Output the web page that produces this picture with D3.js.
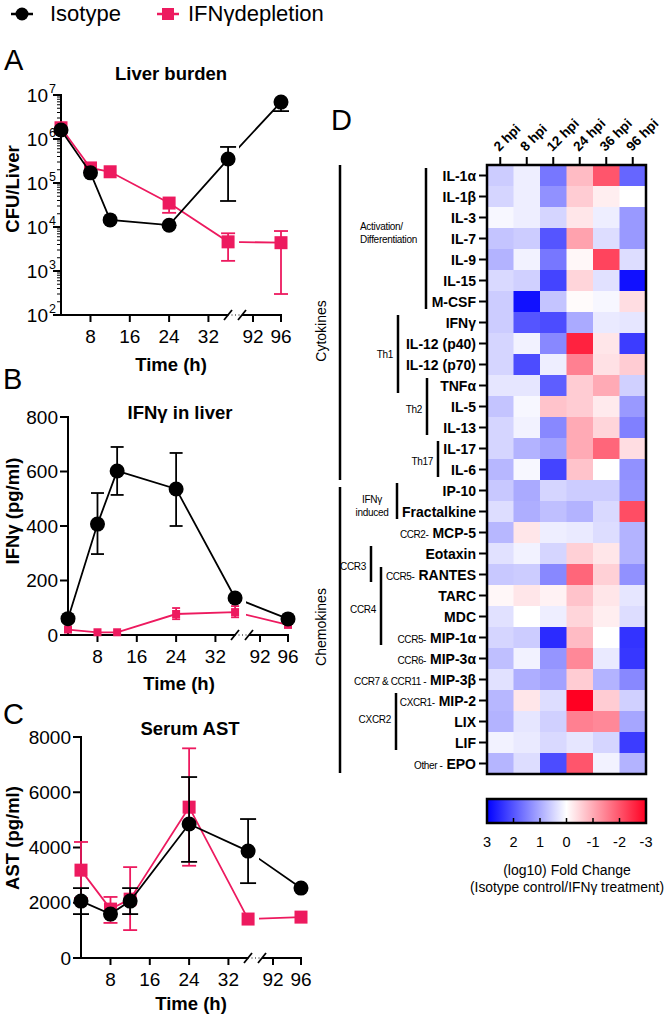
<!DOCTYPE html>
<html><head><meta charset="utf-8">
<script src="https://cdn.jsdelivr.net/npm/d3@7"></script>
<style>
body{margin:0;background:#fff}
svg{display:block}
text{font-family:"Liberation Sans",Arial,Helvetica,sans-serif;fill:#000}
</style>
</head><body>
<svg id="chart" width="671" height="1020"></svg>
<script>
// ---------------- DATA ----------------
const seriesNames = ["Isotype", "IFNγdepletion"];
const timepoints = [2, 8, 12, 24, 36, 96];
const xTickValues = [8, 16, 24, 32, 92, 96];

// A: Liver burden (CFU/Liver)
const burdenIso   = [1.6e6, 1.7e5, 1.45e4, 1.1e4, 3.5e5, 6.9e6];
const burdenIsoLo = [1.6e6, 1.7e5, 1.45e4, 1.1e4, 3.9e4, 4.3e6];
const burdenIsoHi = [1.6e6, 1.7e5, 1.45e4, 1.1e4, 6.6e5, 6.9e6];
const burdenIfn   = [1.8e6, 2.2e5, 1.8e5, 3.5e4, 4.6e3, 4.4e3];
const burdenIfnLo = [1.8e6, 2.2e5, 1.8e5, 2.1e4, 1.7e3, 3.0e2];
const burdenIfnHi = [1.8e6, 2.2e5, 1.8e5, 3.5e4, 7.2e3, 8.1e3];
const burdenTicks = [1e2, 1e3, 1e4, 1e5, 1e6, 1e7];

// B: IFNγ in liver (pg/ml)
const ifnIso   = [60, 407, 602, 536, 136, 59];
const ifnIsoLo = [60, 297, 514, 400, 136, 59];
const ifnIsoHi = [60, 521, 690, 668, 136, 59];
const ifnIfn   = [20, 10, 10, 77, 84, 37];
const ifnIfnLo = [20, 10, 10, 58, 65, 37];
const ifnIfnHi = [20, 10, 10, 99, 106, 37];
const ifnTicks = [0, 200, 400, 600, 800];

// C: Serum AST (pg/ml)
const astIso   = [2060, 1590, 2060, 4850, 3870, 2530];
const astIsoLo = [1590, 1590, 1590, 3480, 2710, 2530];
const astIsoHi = [2530, 1590, 2530, 6550, 5030, 2530];
const astIfn   = [3180, 1770, 2130, 5460, 1410, 1480];
const astIfnLo = [2170, 1270, 1010, 3340, 1410, 1480];
const astIfnHi = [4200, 2210, 3290, 7590, 1410, 1480];
const astTicks = [0, 2000, 4000, 6000, 8000];

// D: heatmap
const heatCols = ["2 hpi", "8 hpi", "12 hpi", "24 hpi", "36 hpi", "96 hpi"];
const heatRows = ["IL-1α","IL-1β","IL-3","IL-7","IL-9","IL-15","M-CSF","IFNγ","IL-12 (p40)","IL-12 (p70)",
  "TNFα","IL-5","IL-13","IL-17","IL-6","IP-10","Fractalkine","MCP-5","Eotaxin","RANTES","TARC","MDC",
  "MIP-1α","MIP-3α","MIP-3β","MIP-2","LIX","LIF","EPO"];
const heatPrefixes = ["","","","","","","","","","","","","","","","","","CCR2-","","CCR5-","","",
  "CCR5-","CCR6-","CCR7 & CCR11 -","CXCR1-","","","Other -"];
const heatValues = [
  [0.6, 0.2, 1.6, -0.8, -2.0, 1.8],
  [0.5, 0.2, 1.3, -0.6, -0.2, 0.0],
  [0.1, 0.2, 0.5, -0.3, 0.2, 1.2],
  [0.7, 0.6, 2.0, -1.1, 0.4, 1.2],
  [0.9, 0.15, 1.6, -0.1, -2.2, 0.4],
  [0.45, 0.55, 2.2, -0.5, 0.35, 2.8],
  [0.6, 2.8, 0.7, -0.05, 0.1, -0.4],
  [0.6, 2.0, 2.1, 1.0, 0.25, 0.3],
  [0.5, 0.15, 1.4, -2.6, -0.3, 2.3],
  [0.5, 2.1, 0.2, -1.5, -0.35, -0.6],
  [0.3, 0.3, 1.9, -0.6, -1.0, 0.55],
  [0.7, 0.1, -0.7, -0.6, -0.25, 1.2],
  [0.5, 0.15, 1.4, -1.0, -0.5, 1.5],
  [0.5, 0.9, 1.1, -1.0, -1.8, -0.4],
  [0.85, 0.1, 2.2, -0.7, 0.0, 1.3],
  [0.65, 1.0, 0.5, 0.6, 0.6, 1.25],
  [0.4, 0.95, 0.75, 0.9, 0.45, -2.1],
  [0.85, -0.3, 0.2, 0.25, 0.4, 0.9],
  [0.35, 0.15, 0.5, -0.55, -0.3, 0.9],
  [0.65, 0.6, 1.4, -1.8, -0.55, 1.3],
  [-0.1, -0.3, -0.15, -0.7, -0.3, 0.3],
  [0.35, 0.0, 0.2, -0.5, -0.2, 0.4],
  [0.5, 0.6, 2.5, -0.8, 0.0, 2.4],
  [0.75, 0.15, 1.25, -1.4, 0.25, 2.35],
  [0.35, 0.95, 1.1, -0.6, 0.9, 1.4],
  [0.85, -0.3, 0.4, -3.0, -0.6, 0.55],
  [0.9, 0.3, 0.55, -1.5, -1.4, 1.05],
  [0.15, 0.25, 0.45, 0.3, 0.5, 2.3],
  [0.87, 0.4, 2.1, -2.0, 0.15, 0.9]
];
const colorbarTicks = [3, 2, 1, 0, -1, -2, -3];
const classLabels = ["Cytokines", "Chemokines"];
const classStart = [0, 15];
const classEnd = [14, 28];
const groupLabels = [["Activation/","Differentiation"],["Th1"],["Th2"],["Th17"],["IFNγ","induced"],["CCR3"],["CCR4"],["CXCR2"]];
const groupStart = [0, 7, 10, 13, 15, 18, 19, 25];
const groupEnd   = [6, 10, 12, 14, 16, 19, 22, 27];

// ---------------- LAYOUT / STYLE ----------------
const PINK = "#ed1a5f";
const svg = d3.select("#chart");

// Legend
const leg = svg.append("g");
leg.append("line").attr("x1", 11).attr("x2", 33).attr("y1", 14).attr("y2", 14).attr("stroke", "#000").attr("stroke-width", 2.5);
leg.append("circle").attr("cx", 22).attr("cy", 14).attr("r", 6.5).attr("fill", "#000");
leg.append("text").attr("x", 50).attr("y", 21).attr("font-size", 22).text(seriesNames[0]);
leg.append("line").attr("x1", 157).attr("x2", 179).attr("y1", 14).attr("y2", 14).attr("stroke", PINK).attr("stroke-width", 2.5);
leg.append("rect").attr("x", 162).attr("y", 8).attr("width", 12).attr("height", 12).attr("fill", PINK);
leg.append("text").attr("x", 188).attr("y", 21).attr("font-size", 22).text(seriesNames[1]);

function makeX(axisX) {
  const s1 = d3.scaleLinear().domain([2, 37]).range([axisX, axisX + 172]);
  const s2 = d3.scaleLinear().domain([91, 96]).range([axisX + 185, axisX + 220]);
  return t => (t <= 40 ? s1(t) : s2(t));
}

function drawPanel(cfg) {
  const g = svg.append("g");
  const x = makeX(cfg.axisX);
  const y = cfg.y;
  const x0 = cfg.axisX, yb = cfg.y.range()[0], yt = cfg.y.range()[1];

  g.append("text").attr("x", cfg.letterX).attr("y", cfg.letterY).attr("font-size", 29).text(cfg.letter);
  g.append("text").attr("x", cfg.titleX).attr("y", cfg.titleY).attr("text-anchor", "middle")
    .attr("font-size", 18.5).attr("font-weight", "bold").text(cfg.title);

  // y axis
  g.append("line").attr("x1", x0).attr("x2", x0).attr("y1", yt - 1).attr("y2", yb + 1).attr("stroke", "#000").attr("stroke-width", 2);
  cfg.yTicks.forEach(v => {
    g.append("line").attr("x1", x0 - 8).attr("x2", x0).attr("y1", y(v)).attr("y2", y(v)).attr("stroke", "#000").attr("stroke-width", 2);
  });
  if (cfg.log) {
    for (let k = 2; k < 7; k++) for (let m = 2; m <= 9; m++) {
      const yy = y(m * Math.pow(10, k));
      g.append("line").attr("x1", x0 - 4).attr("x2", x0).attr("y1", yy).attr("y2", yy).attr("stroke", "#000").attr("stroke-width", 1);
    }
    cfg.yTicks.forEach(v => {
      const e = Math.round(Math.log10(v));
      g.append("text").attr("x", x0 - 13).attr("y", y(v) + 7).attr("text-anchor", "end").attr("font-size", 19).text("10");
      g.append("text").attr("x", x0 - 12).attr("y", y(v) - 2).attr("font-size", 12.5).text(e);
    });
  } else {
    cfg.yTicks.forEach(v => {
      g.append("text").attr("x", x0 - 10).attr("y", y(v)).attr("dy", "0.35em").attr("text-anchor", "end").attr("font-size", 19).text(v);
    });
  }
  g.append("text").attr("transform", `translate(${cfg.ylabelX},${cfg.ylabelY}) rotate(-90)`)
    .attr("text-anchor", "middle").attr("font-size", 18.5).attr("font-weight", "bold").text(cfg.ylabel);

  // x axis with break
  const bA = x0 + 167, bB = x0 + 181;
  g.append("line").attr("x1", x0 - 1).attr("x2", bA).attr("y1", yb).attr("y2", yb).attr("stroke", "#000").attr("stroke-width", 2);
  g.append("line").attr("x1", bB).attr("x2", x0 + 221).attr("y1", yb).attr("y2", yb).attr("stroke", "#000").attr("stroke-width", 2);
  g.append("line").attr("x1", bA).attr("x2", bB).attr("y1", yb).attr("y2", yb).attr("stroke", "#000").attr("stroke-width", 1).attr("stroke-dasharray", "1,2.5");
  [bA, bB].forEach(cx => {
    g.append("line").attr("x1", cx - 4).attr("x2", cx + 4).attr("y1", yb + 5).attr("y2", yb - 5).attr("stroke", "#000").attr("stroke-width", 1.8);
  });
  xTickValues.forEach(t => {
    g.append("line").attr("x1", x(t)).attr("x2", x(t)).attr("y1", yb).attr("y2", yb + 7).attr("stroke", "#000").attr("stroke-width", 2);
    g.append("text").attr("x", x(t)).attr("y", yb + 28).attr("text-anchor", "middle").attr("font-size", 19).text(t);
  });
  g.append("text").attr("x", cfg.xlabelX).attr("y", cfg.xlabelY).attr("text-anchor", "middle")
    .attr("font-size", 18.5).attr("font-weight", "bold").text("Time (h)");

  const cid = "clip" + cfg.letter;
  const cp = svg.append("clipPath").attr("id", cid);
  cp.append("rect").attr("x", 0).attr("y", 0).attr("width", x0 + 170).attr("height", 1020);
  cp.append("rect").attr("x", x0 + 178).attr("y", 0).attr("width", 671).attr("height", 1020);

  cfg.series.forEach(s => {
    const pts = timepoints.map((t, i) => ({ t, v: s.vals[i], lo: s.lo[i], hi: s.hi[i] }));
    const eg = g.append("g").attr("stroke", s.color).attr("stroke-width", 1.8);
    pts.forEach(p => {
      if (p.hi > p.v) {
        eg.append("line").attr("x1", x(p.t)).attr("x2", x(p.t)).attr("y1", y(p.v)).attr("y2", y(p.hi));
        eg.append("line").attr("x1", x(p.t) - s.cap).attr("x2", x(p.t) + s.cap).attr("y1", y(p.hi)).attr("y2", y(p.hi));
      }
      if (p.lo < p.v) {
        eg.append("line").attr("x1", x(p.t)).attr("x2", x(p.t)).attr("y1", y(p.v)).attr("y2", y(p.lo));
        eg.append("line").attr("x1", x(p.t) - s.cap).attr("x2", x(p.t) + s.cap).attr("y1", y(p.lo)).attr("y2", y(p.lo));
      }
    });
    g.append("path").attr("clip-path", `url(#${cid})`)
      .attr("d", d3.line().x(p => x(p.t)).y(p => y(p.v))(pts))
      .attr("fill", "none").attr("stroke", s.color).attr("stroke-width", 1.8);
    pts.forEach(p => {
      if (s.marker === "circle") {
        g.append("circle").attr("cx", x(p.t)).attr("cy", y(p.v)).attr("r", s.size / 2).attr("fill", s.color);
      } else {
        g.append("rect").attr("x", x(p.t) - s.size / 2).attr("y", y(p.v) - s.size / 2)
          .attr("width", s.size).attr("height", s.size).attr("fill", s.color);
      }
    });
  });
}

drawPanel({
  letter: "A", letterX: 4, letterY: 70,
  title: "Liver burden", titleX: 171, titleY: 80,
  axisX: 61, y: d3.scaleLog().domain([1e2, 1e7]).range([315, 95]), log: true, yTicks: burdenTicks,
  ylabel: "CFU/Liver", ylabelX: 18.5, ylabelY: 189, xlabelX: 171, xlabelY: 371,
  series: [
    { vals: burdenIfn, lo: burdenIfnLo, hi: burdenIfnHi, color: PINK, marker: "square", size: 13, cap: 7 },
    { vals: burdenIso, lo: burdenIsoLo, hi: burdenIsoHi, color: "#000", marker: "circle", size: 15, cap: 8 }
  ]
});
drawPanel({
  letter: "B", letterX: 3, letterY: 389,
  title: "IFNγ in liver", titleX: 180, titleY: 419,
  axisX: 68, y: d3.scaleLinear().domain([0, 800]).range([635, 417]), log: false, yTicks: ifnTicks,
  ylabel: "IFNγ (pg/ml)", ylabelX: 18.5, ylabelY: 511, xlabelX: 179, xlabelY: 690,
  series: [
    { vals: ifnIfn, lo: ifnIfnLo, hi: ifnIfnHi, color: PINK, marker: "square", size: 8, cap: 4 },
    { vals: ifnIso, lo: ifnIsoLo, hi: ifnIsoHi, color: "#000", marker: "circle", size: 15, cap: 6.5 }
  ]
});
drawPanel({
  letter: "C", letterX: 3, letterY: 724,
  title: "Serum AST", titleX: 190, titleY: 735,
  axisX: 81, y: d3.scaleLinear().domain([0, 8000]).range([958, 737]), log: false, yTicks: astTicks,
  ylabel: "AST (pg/ml)", ylabelX: 18.5, ylabelY: 838, xlabelX: 191, xlabelY: 1010,
  series: [
    { vals: astIfn, lo: astIfnLo, hi: astIfnHi, color: PINK, marker: "square", size: 13, cap: 7 },
    { vals: astIso, lo: astIsoLo, hi: astIsoHi, color: "#000", marker: "circle", size: 15, cap: 8 }
  ]
});

// ---------------- Panel D: heatmap ----------------
const hm = svg.append("g");
hm.append("text").attr("x", 331).attr("y", 130).attr("font-size", 29).text("D");
const xB = d3.scaleBand().domain(heatCols).range([487, 646]);
const yB = d3.scaleBand().domain(heatRows).range([165, 774]);
const color = d3.scaleLinear().domain([-3, 0, 3]).range(["#ff0022", "#ffffff", "#0000ff"]).clamp(true);

heatRows.forEach((r, i) => {
  heatCols.forEach((c, j) => {
    hm.append("rect").attr("x", xB(c)).attr("y", yB(r)).attr("width", xB.bandwidth() + 0.5)
      .attr("height", yB.bandwidth() + 0.5).attr("fill", color(heatValues[i][j]));
  });
});
hm.append("rect").attr("x", 487).attr("y", 165).attr("width", 159).attr("height", 609)
  .attr("fill", "none").attr("stroke", "#000").attr("stroke-width", 2.5);

heatCols.forEach(c => {
  const cx = xB(c) + xB.bandwidth() / 2;
  hm.append("line").attr("x1", cx).attr("x2", cx).attr("y1", 157).attr("y2", 165).attr("stroke", "#000").attr("stroke-width", 2);
  hm.append("text").attr("transform", `translate(${cx - 1},${152}) rotate(-45)`)
    .attr("font-size", 13.5).attr("font-weight", "bold").text(c);
});
heatRows.forEach((r, i) => {
  const cy = yB(r) + yB.bandwidth() / 2;
  hm.append("line").attr("x1", 479).attr("x2", 487).attr("y1", cy).attr("y2", cy).attr("stroke", "#000").attr("stroke-width", 2);
  const t = hm.append("text").attr("x", 476).attr("y", cy + 5).attr("text-anchor", "end");
  if (heatPrefixes[i]) {
    t.append("tspan").attr("font-size", 10).attr("letter-spacing", -0.4).text(heatPrefixes[i]);
    t.append("tspan").attr("dx", 4).attr("font-size", 14).attr("font-weight", "bold").text(r);
  } else {
    t.append("tspan").attr("font-size", 14).attr("font-weight", "bold").text(r);
  }
});

const classInset = [[0, 0], [7, 1]];
const classLabelY = [331, 627];
classLabels.forEach((lab, k) => {
  const y1 = yB(heatRows[classStart[k]]) + classInset[k][0];
  const y2 = yB(heatRows[classEnd[k]]) + yB.bandwidth() - classInset[k][1];
  hm.append("line").attr("x1", 340).attr("x2", 340).attr("y1", y1).attr("y2", y2).attr("stroke", "#000").attr("stroke-width", 2.5);
  hm.append("text").attr("transform", `translate(${326},${classLabelY[k]}) rotate(-90)`)
    .attr("text-anchor", "middle").attr("font-size", 14).text(lab);
});

const groupLineX = [426, 398, 427, 438, 397, 371, 381, 396];
const groupDy = [-8.5, 4, 6.5, 6, 2, 6, 7, 1.5];
groupLabels.forEach((lines, k) => {
  const y1 = yB(heatRows[groupStart[k]]) + 3;
  const y2 = yB(heatRows[groupEnd[k]]) + yB.bandwidth() - 3;
  const mid = (yB(heatRows[groupStart[k]]) + yB(heatRows[groupEnd[k]]) + yB.bandwidth()) / 2;
  hm.append("line").attr("x1", groupLineX[k]).attr("x2", groupLineX[k]).attr("y1", y1).attr("y2", y2)
    .attr("stroke", "#000").attr("stroke-width", 2.5);
  lines.forEach((ln, m) => {
    const tx = hm.append("text").attr("font-size", 10).attr("letter-spacing", -0.3)
      .attr("y", mid + groupDy[k] + m * 13).text(ln);
    if (k === 0) tx.attr("x", 360);
    else if (k === 4) tx.attr("x", 372).attr("text-anchor", "middle");
    else tx.attr("x", groupLineX[k] - 5).attr("text-anchor", "end");
  });
});

// colour bar
const cbX = d3.scaleLinear().domain([3, -3]).range([487, 646]);
const defs = svg.append("defs");
const grad = defs.append("linearGradient").attr("id", "cbgrad").attr("x1", "0%").attr("x2", "100%").attr("y1", "0%").attr("y2", "0%");
colorbarTicks.forEach(v => {
  grad.append("stop").attr("offset", ((cbX(v) - 487) / 159 * 100) + "%").attr("stop-color", color(v));
});
hm.append("rect").attr("x", 487).attr("y", 799).attr("width", 159).attr("height", 24)
  .attr("fill", "url(#cbgrad)").attr("stroke", "#000").attr("stroke-width", 2.5);
colorbarTicks.forEach(v => {
  if (v !== 3 && v !== -3) {
    hm.append("line").attr("x1", cbX(v)).attr("x2", cbX(v)).attr("y1", 818).attr("y2", 823).attr("stroke", "#000").attr("stroke-width", 1.5);
  }
  hm.append("text").attr("x", cbX(v)).attr("y", 847).attr("text-anchor", "middle").attr("font-size", 14.5).text(v);
});
hm.append("text").attr("x", 567).attr("y", 875).attr("text-anchor", "middle").attr("font-size", 14).text("(log10) Fold Change");
hm.append("text").attr("x", 567).attr("y", 892).attr("text-anchor", "middle").attr("font-size", 13.8).text("(Isotype control/IFNγ treatment)");
</script>
</body></html>
